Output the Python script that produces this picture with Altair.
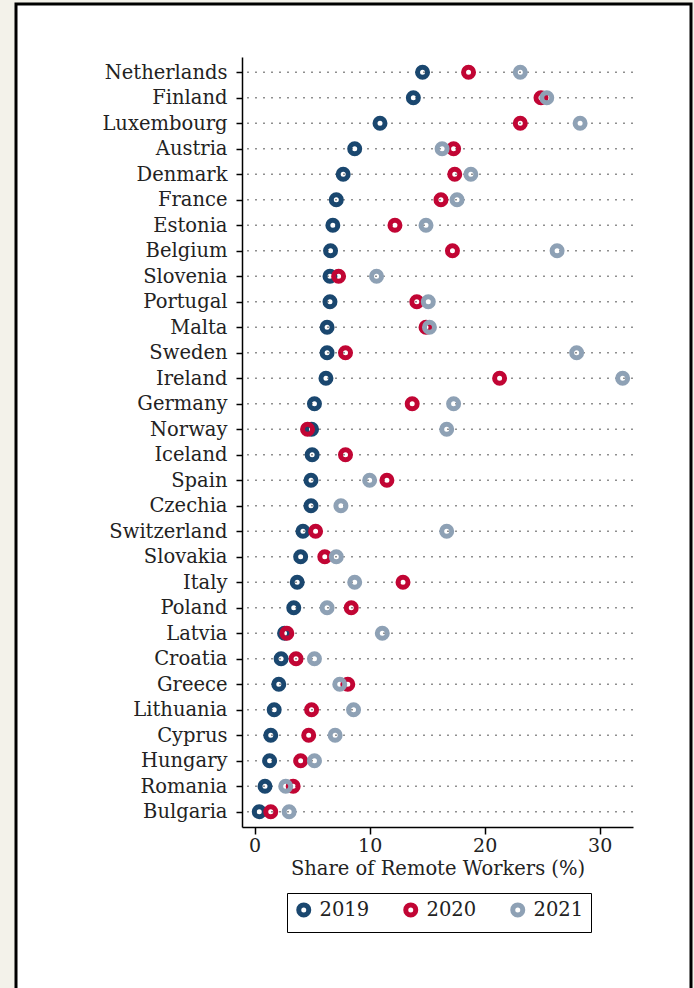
import altair as alt
import pandas as pd

countries = ["Netherlands", "Finland", "Luxembourg", "Austria", "Denmark", "France",
             "Estonia", "Belgium", "Slovenia", "Portugal", "Malta", "Sweden", "Ireland",
             "Germany", "Norway", "Iceland", "Spain", "Czechia", "Switzerland", "Slovakia",
             "Italy", "Poland", "Latvia", "Croatia", "Greece", "Lithuania", "Cyprus",
             "Hungary", "Romania", "Bulgaria"]
v2019 = [14.6, 13.8, 10.9, 8.7, 7.7, 7.1, 6.8, 6.6, 6.55, 6.55, 6.3, 6.3, 6.2,
         5.2, 4.95, 5.0, 4.9, 4.9, 4.2, 4.0, 3.7, 3.4, 2.6, 2.3, 2.1, 1.7, 1.4,
         1.3, 0.9, 0.4]
v2020 = [18.6, 24.9, 23.1, 17.3, 17.4, 16.2, 12.2, 17.2, 7.3, 14.1, 14.9, 7.9, 21.3,
         13.7, 4.6, 7.9, 11.5, None, 5.3, 6.1, 12.9, 8.4, 2.8, 3.6, 8.1, 4.95, 4.7,
         4.0, 3.35, 1.4]
v2021 = [23.1, 25.4, 28.3, 16.3, 18.8, 17.6, 14.9, 26.3, 10.6, 15.1, 15.2, 28.0, 32.0,
         17.3, 16.7, None, 10.0, 7.5, 16.7, 7.1, 8.7, 6.3, 11.1, 5.2, 7.4, 8.6, 7.0,
         5.2, 2.7, 3.0]
years = ["2019", "2020", "2021"]
colors = ["#1a476f", "#c10534", "#8ea1b5"]

rows = []
for yr, vals in zip(years, [v2019, v2020, v2021]):
    for c, v in zip(countries, vals):
        if v is not None:
            rows.append({"country": c, "year": yr, "share": v})
df = pd.DataFrame(rows)

W, H = 391, 770
FONT = "DejaVu Serif"

frame = alt.Chart(pd.DataFrame({"k": [0]})).mark_rect(
    fill="white", stroke="black", strokeWidth=3
).encode(x=alt.value(-226), x2=alt.value(449), y=alt.value(-53), y2=alt.value(960))

ysc = alt.Scale(type="point", padding=0.6)
yaxis = alt.Axis(title=None, grid=False, zindex=1, domain=True, domainColor="black",
                 domainWidth=1.5, tickColor="black", tickSize=6, tickWidth=1.5,
                 labelFont=FONT, labelFontSize=19.5, labelColor="#222",
                 labelPadding=9)

grid = alt.Chart(pd.DataFrame({"country": countries})).mark_rule(
    color="#8f8f8f", strokeDash=[2, 6], strokeWidth=1.6
).encode(y=alt.Y("country:N", sort=countries, scale=ysc, axis=yaxis))

points = alt.Chart(df).mark_point(filled=False, size=100, strokeWidth=5, opacity=1).encode(
    x=alt.X("share:Q",
            scale=alt.Scale(domain=[-1.1, 32.9], nice=False, zero=False),
            axis=alt.Axis(values=[0, 10, 20, 30], title="Share of Remote Workers (%)",
                          grid=False, zindex=1, domainColor="black", domainWidth=1.5,
                          tickColor="black", tickSize=7, tickWidth=1.5,
                          labelFont=FONT, labelFontSize=19, labelColor="#222",
                          labelPadding=2, labelFlush=False,
                          titleFont=FONT, titleFontSize=19.5, titleFontWeight="normal",
                          titleColor="#222", titlePadding=4)),
    y=alt.Y("country:N", sort=countries, scale=ysc, axis=yaxis),
    color=alt.Color("year:N", scale=alt.Scale(domain=years, range=colors),
                    legend=alt.Legend(title=None, orient="none", legendX=45, legendY=836,
                                      direction="horizontal", strokeColor="black",
                                      fillColor="white", padding=7,
                                      labelFont=FONT, labelFontSize=19.5, labelColor="#222",
                                      symbolType="circle", symbolSize=100,
                                      symbolStrokeWidth=5, columnPadding=25,
                                      labelOffset=6)),
    order=alt.Order("year:N"),
)

chart = alt.layer(frame, grid, points).properties(
    width=W, height=H,
    padding={"left": 242, "top": 57, "right": 61, "bottom": 161},
    autosize=alt.AutoSizeParams(type="none"),
).configure(background="#f3f2ea").configure_view(stroke=None)

chart.save("out.html", embed_options={"renderer": "svg", "actions": False})
